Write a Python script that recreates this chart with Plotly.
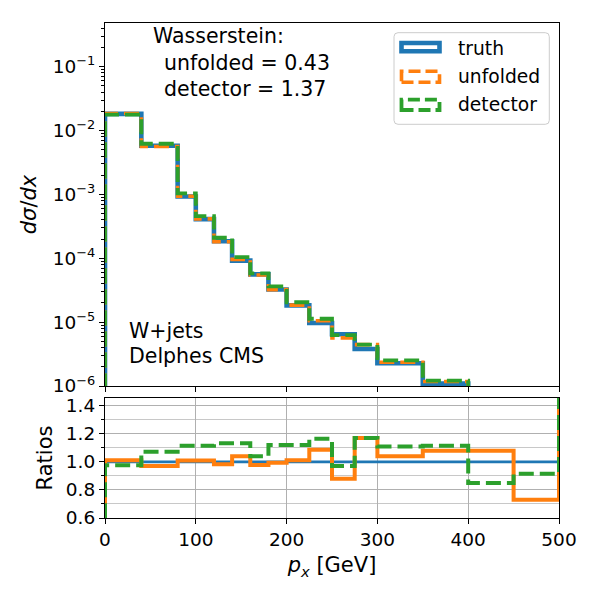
import plotly.graph_objects as go

# ---------------- data ----------------
edges = [0, 40, 80, 100, 120, 140, 160, 180, 200, 225, 250, 275, 300, 350, 400, 450, 500]
truth = [1.83e-2, 5.8e-3, 9.3e-4, 4.1e-4, 1.85e-4, 9.2e-5, 5.6e-5, 3.25e-5,
         1.83e-5, 9.7e-6, 6.45e-6, 3.8e-6, 2.27e-6, 1.09e-6, 5.0e-7, 2.5e-7]
ratio_unfolded = [1.011, 0.97, 1.01, 1.01, 0.983, 1.04, 0.977, 0.993,
                  1.011, 1.086, 0.88, 1.17, 1.04, 1.08, 1.08, 0.73]
ratio_detector = [0.975, 1.072, 1.114, 1.114, 1.133, 1.133, 1.04, 1.12,
                  1.12, 1.165, 0.97, 1.17, 1.11, 1.114, 0.85, 0.915]
ratio_truth = [1.0] * len(truth)
unfolded = [t * r for t, r in zip(truth, ratio_unfolded)]
detector = [t * r for t, r in zip(truth, ratio_detector)]

wasserstein_unfolded = 0.43
wasserstein_detector = 1.37
ytick_vals = [1e-6, 1e-5, 1e-4, 1e-3, 1e-2, 1e-1]
ytick_text = ["10<sup>\u22126</sup>", "10<sup>\u22125</sup>", "10<sup>\u22124</sup>",
              "10<sup>\u22123</sup>", "10<sup>\u22122</sup>", "10<sup>\u22121</sup>"]
rtick_vals = [0.6, 0.8, 1.0, 1.2, 1.4]
rtick_text = ["0.6", "0.8", "1.0", "1.2", "1.4"]
xtick_vals = [0, 100, 200, 300, 400, 500]

BLUE, ORANGE, GREEN = "#1f77b4", "#ff7f0e", "#2ca02c"
FONT = "DejaVu Sans"

# ---------------- geometry ----------------
# the page body adds an 8px offset; margins compensate so the plot area
# lands at screen x 105..559, y 23..518
OFF = 8
W, H = 600, 600
SL, SR, ST, SB = 105, 559, 23, 518          # screen coords of plot area
L, T = SL - OFF, ST - OFF
R, B = W - (SR - OFF), H - (SB - OFF)
PW, PH = SR - SL, SB - ST


def px(x):
    return (x - SL) / PW


def py(y):
    return (SB - y) / PH


def step_xy(vals, lo, hi):
    xs = [edges[0]] + list(edges)
    ys = [lo] + list(vals) + [hi]
    return xs, ys


fig = go.Figure()

# top panel
for vals, col, w, dash in [(truth, BLUE, 4.6, "solid"),
                           (unfolded, ORANGE, 3.6, "15px,6px"),
                           (detector, GREEN, 3.8, "15px,6px")]:
    xs, ys = step_xy(vals, 1e-9, 1e-9)
    fig.add_trace(go.Scatter(x=xs, y=ys, mode="lines", line_shape="hv",
                             line=dict(color=col, width=w, dash=dash),
                             xaxis="x", yaxis="y", hoverinfo="skip"))

# ratio panel
for vals, col, w, dash in [(ratio_truth, BLUE, 2.6, "solid"),
                           (ratio_unfolded, ORANGE, 4.0, "solid"),
                           (ratio_detector, GREEN, 4.0, "15px,6px")]:
    xs, ys = step_xy(vals, 0.0, 3.0)
    fig.add_trace(go.Scatter(x=xs, y=ys, mode="lines", line_shape="hv",
                             line=dict(color=col, width=w, dash=dash),
                             xaxis="x2", yaxis="y2", hoverinfo="skip"))

split_top = py(386)
split_bot = py(398)

minor_log = []
for k in range(-7, 0):
    for m in range(2, 10):
        minor_log.append(m * 10 ** k)

axis_common = dict(showline=True, linecolor="black", linewidth=1.1, mirror=True,
                   ticks="outside", ticklen=5, tickwidth=1.1, tickcolor="black",
                   zeroline=False)

fig.update_layout(
    width=W, height=H,
    margin=dict(l=L, r=R, t=T, b=B),
    paper_bgcolor="white", plot_bgcolor="white",
    font=dict(family=FONT, size=18.5, color="black"),
    showlegend=False,
    xaxis=dict(domain=[0, 1], anchor="y", range=[0, 500], tickvals=xtick_vals,
               showticklabels=False, showgrid=False, **axis_common),
    yaxis=dict(domain=[split_top, 1], anchor="x", type="log", range=[-6, -0.315],
               tickvals=ytick_vals, ticktext=ytick_text, showgrid=False,
               minor=dict(tickvals=minor_log, ticks="outside", ticklen=3,
                          tickwidth=1, tickcolor="black", showgrid=False),
               title=dict(text="<i>d\u03c3</i>/<i>dx</i>", font=dict(size=21), standoff=10),
               **axis_common),
    xaxis2=dict(domain=[0, 1], anchor="y2", range=[0, 500], tickvals=xtick_vals,
                showgrid=True, gridcolor="#b0b0b0", gridwidth=1.1,
                title=dict(text="<i>p</i><sub><i>x</i></sub> [GeV]", font=dict(size=21), standoff=8),
                **axis_common),
    yaxis2=dict(domain=[0, split_bot], anchor="x2", range=[0.6, 1.455],
                tickvals=rtick_vals, ticktext=rtick_text,
                showgrid=True, gridcolor="#b0b0b0", gridwidth=1.1,
                minor=dict(tickvals=[0.7, 0.9, 1.1, 1.3], ticks="outside", ticklen=3,
                           tickwidth=1, tickcolor="black", showgrid=True,
                           gridcolor="#c8c8c8", gridwidth=1.1),
                title=dict(text="Ratios", font=dict(size=21), standoff=7),
                **axis_common),
)

# text annotations
texts = [
    ("Wasserstein:", 151.7, 35.5),
    ("unfolded = %.2f" % wasserstein_unfolded, 163.3, 63.3),
    ("detector = %.2f" % wasserstein_detector, 163.3, 88.6),
    ("W+jets", 128.3, 330.7),
    ("Delphes CMS", 128.3, 356.0),
]
for txt, x, y in texts:
    fig.add_annotation(text=txt, x=px(x), y=py(y), xref="paper", yref="paper",
                       xanchor="left", yanchor="middle", showarrow=False,
                       borderpad=0, font=dict(size=20.5, family=FONT, color="black"))

# custom legend (rectangle patch icons like the reference)
x0, x1, y0, y1, r = 394, 549.3, 32.7, 124.3, 4
path = (f"M {px(x0 + r)},{py(y0)} L {px(x1 - r)},{py(y0)} "
        f"Q {px(x1)},{py(y0)} {px(x1)},{py(y0 + r)} L {px(x1)},{py(y1 - r)} "
        f"Q {px(x1)},{py(y1)} {px(x1 - r)},{py(y1)} L {px(x0 + r)},{py(y1)} "
        f"Q {px(x0)},{py(y1)} {px(x0)},{py(y1 - r)} L {px(x0)},{py(y0 + r)} "
        f"Q {px(x0)},{py(y0)} {px(x0 + r)},{py(y0)} Z")
fig.add_shape(type="path", path=path, xref="paper", yref="paper",
              line=dict(color="#cccccc", width=1), fillcolor="rgba(255,255,255,0.8)",
              layer="above")

legend_items = [("truth", BLUE, "solid", 4.6, 43.0, 51.2, 48.3),
                ("unfolded", ORANGE, "12px,5px", 3.6, 71.2, 82.2, 76.7),
                ("detector", GREEN, "12px,5px", 3.8, 99.6, 110.0, 105.0)]
for name, col, dash, w, ya, yb, yt in legend_items:
    fig.add_shape(type="rect", xref="paper", yref="paper",
                  x0=px(401.5), x1=px(439.5), y0=py(yb), y1=py(ya),
                  line=dict(color=col, width=w, dash=dash), fillcolor="rgba(0,0,0,0)",
                  layer="above")
    fig.add_annotation(text=name, x=px(456.7), y=py(yt), xref="paper", yref="paper",
                       xanchor="left", yanchor="middle", showarrow=False, borderpad=0,
                       font=dict(size=18.7, family=FONT, color="black"))

fig.write_html("out.html")
